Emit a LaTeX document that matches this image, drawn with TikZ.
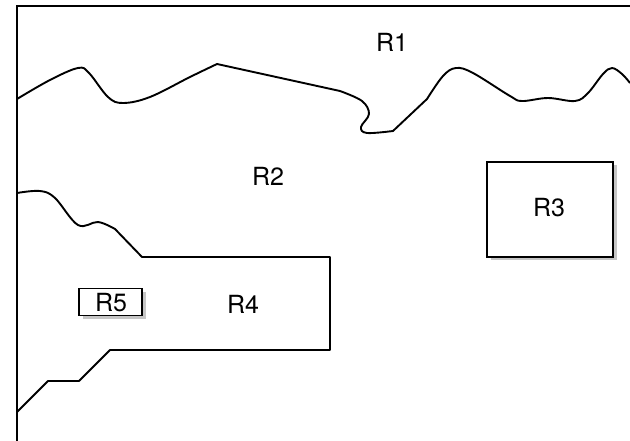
\documentclass[tikz,border=0pt]{standalone}
\usepackage{fontspec}
\setmainfont{TeX Gyre Heros}
\usetikzlibrary{shadows}
\begin{document}
\begin{tikzpicture}[x=1pt,y=-1pt,
  edge/.style={line width=1.9pt,line join=round},
  lbl/.style={font=\fontsize{25}{28}\selectfont,inner sep=0pt},
  region/.style={draw,line width=1.9pt,fill=white,inner sep=0pt,
    drop shadow={shadow xshift=3.5pt,shadow yshift=-3.5pt,opacity=0.45,fill=gray}}]
\useasboundingbox (0,0) rectangle (630,441);
% frame
\draw[line width=2.2pt] (17,441) -- (17,6) -- (630,6);
% R1 boundary
\draw[edge] plot[smooth,tension=0.6] coordinates {(17,99) (50,80) (78,68) (89,73) (108,97) (123,103) (150,97) (190,77) (217,64)}
  -- (340,91)
  plot[smooth,tension=0.6] coordinates {(340,91) (362,101) (369,114) (361,127) (367,133) (393,131)}
  -- (427,99)
  plot[smooth,tension=0.6] coordinates {(427,99) (443,76) (456,68) (473,73) (510,96) (522,101) (548,98) (575,101) (588,93) (603,74) (612,68) (622,74) (630,83)};
% R2 / R4 boundary
\draw[edge] plot[smooth,tension=0.6] coordinates {(17,193) (40,191) (55,198) (78,225) (98,222) (115,229)}
  -- (142,257) -- (330,257) -- (330,350) -- (110,350) -- (79,381) -- (48,381) -- (17,412);
% boxes
\node[region,minimum width=126pt,minimum height=95pt] (r3) at (550,209.5) {};
\node[lbl] at (549,208) (r3l) {R3};
\node[region,minimum width=63pt,minimum height=27pt] (r5) at (110.5,302) {};
\node[lbl] at (111,303) (r5l) {R5};
% labels
\node[lbl] (r1) at (392,42) {R1};
\node[lbl] (r2) at (268,176) {R2};
\node[lbl] (r4) at (243,304) {R4};
\end{tikzpicture}
\end{document}
